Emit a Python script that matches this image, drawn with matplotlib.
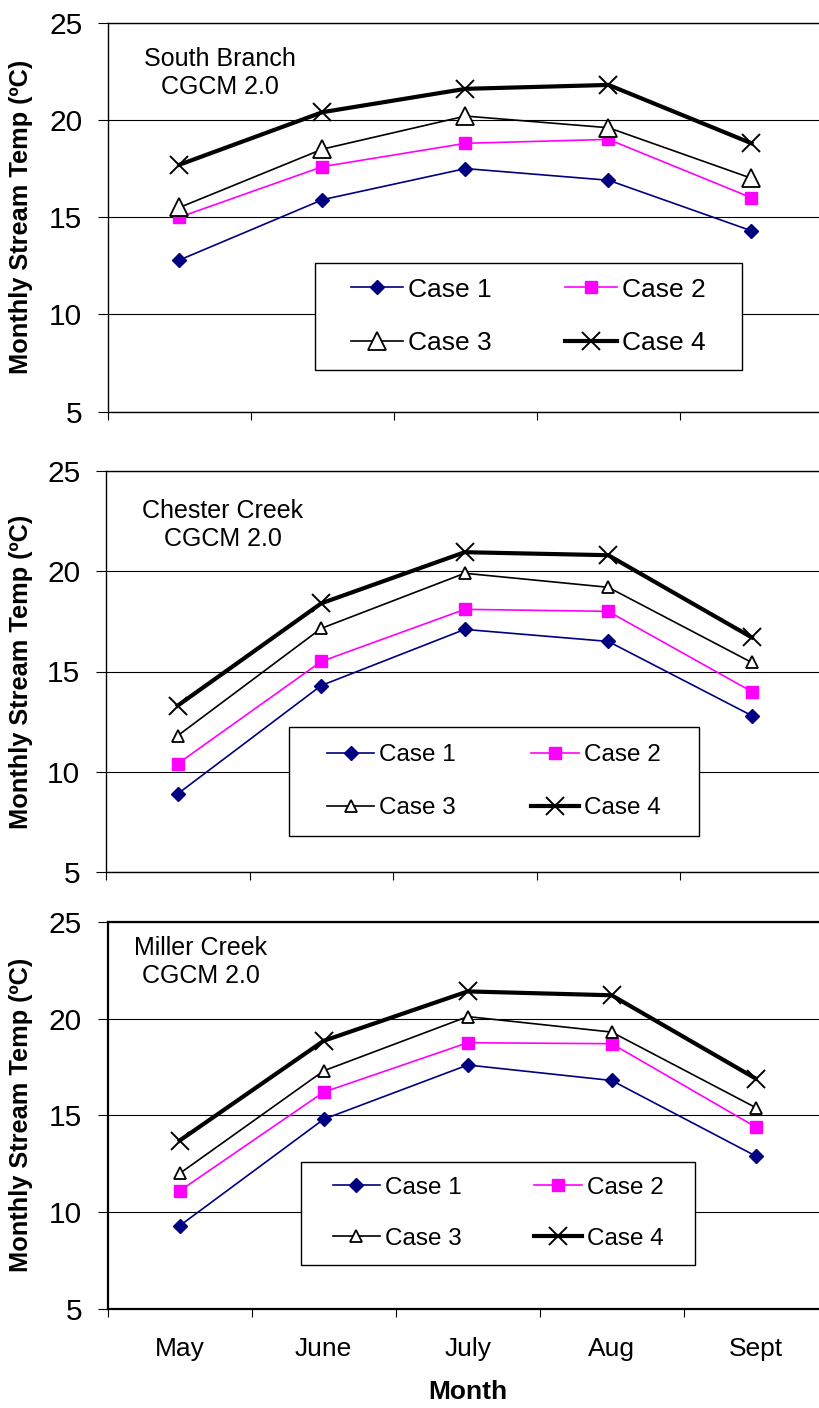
import matplotlib
matplotlib.use("Agg")
import matplotlib.pyplot as plt
from matplotlib.patches import Rectangle

plt.rcParams['font.family'] = ['Liberation Sans', 'DejaVu Sans']

months = ['May', 'June', 'July', 'Aug', 'Sept']
case_labels = ['Case 1', 'Case 2', 'Case 3', 'Case 4']

sb_case1 = [12.8, 15.9, 17.5, 16.9, 14.3]
sb_case2 = [15.0, 17.6, 18.8, 19.0, 16.0]
sb_case3 = [15.5, 18.5, 20.2, 19.6, 17.0]
sb_case4 = [17.7, 20.4, 21.6, 21.8, 18.8]

cc_case1 = [8.9, 14.3, 17.1, 16.5, 12.8]
cc_case2 = [10.4, 15.5, 18.1, 18.0, 14.0]
cc_case3 = [11.8, 17.15, 19.9, 19.2, 15.45]
cc_case4 = [13.3, 18.4, 20.95, 20.8, 16.7]

mc_case1 = [9.3, 14.8, 17.6, 16.8, 12.9]
mc_case2 = [11.1, 16.2, 18.75, 18.7, 14.4]
mc_case3 = [12.0, 17.3, 20.1, 19.3, 15.4]
mc_case4 = [13.7, 18.85, 21.4, 21.2, 16.9]

panel_titles = ['South Branch\nCGCM 2.0', 'Chester Creek\nCGCM 2.0', 'Miller Creek\nCGCM 2.0']
yticks = [5, 10, 15, 20, 25]

W, H = 820, 1408
fig = plt.figure(figsize=(W / 100, H / 100), dpi=100)

# panel geometry in pixels: left, right, top, bottom
geoms = [
    (108, 823, 22.7, 411.7),
    (106, 823.5, 471, 872),
    (107.7, 827.7, 921.7, 1309),
]
title_pos = [(220, 73), (223, 525), (201, 962)]
legend_box = [(315, 742, 263, 370), (288.7, 698.7, 727.3, 836), (301, 695, 1161.7, 1265)]
legend_fs = [19, 17.5, 17.5]
legend_ls = [1.12, 1.27, 1.2]
legend_cs = [2.8, 3.1, 3.0]
tri_ms = [12.5, 8.5, 8.5]
x_ms = [13, 13, 13]
spine_lw = [1.0, 1.0, 1.6]

data = [
    (sb_case1, sb_case2, sb_case3, sb_case4),
    (cc_case1, cc_case2, cc_case3, cc_case4),
    (mc_case1, mc_case2, mc_case3, mc_case4),
]

for i in range(3):
    l, r, t, b = geoms[i]
    ax = fig.add_axes([l / W, (H - b) / H, (r - l) / W, (b - t) / H])
    c1, c2, c3, c4 = data[i]
    x = list(range(len(months)))
    h1, = ax.plot(x, c1, color='#000080', lw=1.2, marker='D', ms=7,
                  mfc='#000080', mec='#000080', label=case_labels[0], zorder=3)
    h2, = ax.plot(x, c2, color='#FF00FF', lw=1.2, marker='s', ms=9,
                  mfc='#FF00FF', mec='#FF00FF', label=case_labels[1], zorder=3)
    h3, = ax.plot(x, c3, color='black', lw=1.2, marker='^', ms=tri_ms[i],
                  mfc='white', mec='black', mew=1.3, label=case_labels[2], zorder=3)
    h4, = ax.plot(x, c4, color='black', lw=3.0, marker='x', ms=x_ms[i],
                  mec='black', mew=1.4, label=case_labels[3], zorder=3)

    ax.set_xlim(-0.5, 4.5)
    ax.set_ylim(5, 25)
    ax.set_yticks(yticks)
    ax.set_yticklabels([str(v) for v in yticks])
    ax.yaxis.grid(True, color='black', lw=0.8)
    ax.set_axisbelow(True)
    ax.tick_params(axis='y', which='major', direction='out', length=7.5, width=0.8,
                   labelsize=21.5, pad=11)
    ax.set_xticks(x)
    ax.set_xticks([-0.5, 0.5, 1.5, 2.5, 3.5, 4.5], minor=True)
    ax.tick_params(axis='x', which='major', length=0, labelsize=19, pad=20)
    ax.tick_params(axis='x', which='minor', direction='out', length=5.5, width=0.8)
    if i == 2:
        ax.set_xticklabels(months)
        ax.set_xlabel('Month', fontsize=19, fontweight='bold', labelpad=14)
    else:
        ax.set_xticklabels([])
    ax.spines['right'].set_visible(False)
    for s in ['left', 'bottom', 'top']:
        ax.spines[s].set_linewidth(spine_lw[i])
    ax.set_ylabel('Monthly Stream Temp (ºC)', fontsize=18.3, fontweight='bold')
    ax.yaxis.set_label_coords((33 - l) / (r - l), 0.5)

    tx, ty = title_pos[i]
    fig.text(tx / W, 1 - ty / H, panel_titles[i], ha='center', va='center',
             multialignment='center', fontsize=18, linespacing=1.2)

    bl, br, bt, bb = legend_box[i]
    rect = Rectangle((bl / W, 1 - bb / H), (br - bl) / W, (bb - bt) / H,
                     transform=fig.transFigure, facecolor='white', edgecolor='black',
                     lw=1.0, zorder=4, clip_on=False)
    ax.add_patch(rect)
    leg = ax.legend([h1, h3, h2, h4], [case_labels[0], case_labels[2], case_labels[1], case_labels[3]],
                    ncol=2, loc='center', bbox_to_anchor=((bl + br) / 2 / W, 1 - (bt + bb) / 2 / H),
                    bbox_transform=fig.transFigure, frameon=False, fontsize=legend_fs[i],
                    handlelength=1.95, handletextpad=0.2, columnspacing=legend_cs[i],
                    labelspacing=legend_ls[i], numpoints=1, borderpad=0.3)
    leg.set_zorder(5)

fig.savefig('out.png', dpi=100)
